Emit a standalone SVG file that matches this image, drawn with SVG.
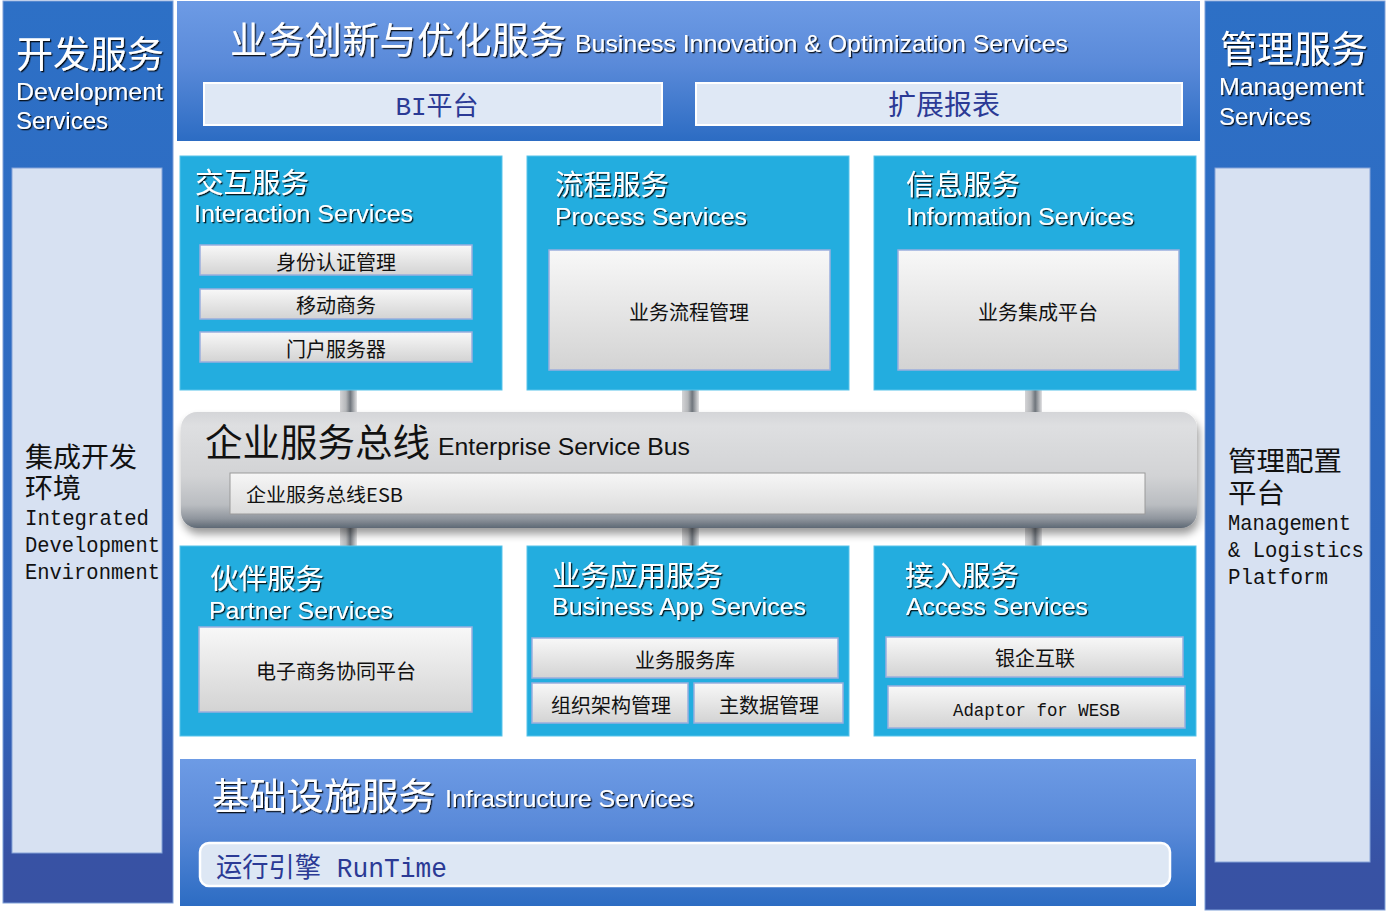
<svg xmlns="http://www.w3.org/2000/svg" width="1390" height="911" viewBox="0 0 1390 911">
<defs>
<linearGradient id="gCol" x1="0" y1="0" x2="0" y2="1">
<stop offset="0" stop-color="#2d70c6"/><stop offset="0.75" stop-color="#3066bd"/><stop offset="0.95" stop-color="#3852a4"/><stop offset="1" stop-color="#3852a3"/>
</linearGradient>
<linearGradient id="gBan" x1="0" y1="0" x2="0" y2="1">
<stop offset="0" stop-color="#6d9be5"/><stop offset="0.45" stop-color="#5a8ad9"/><stop offset="1" stop-color="#2c6cc3"/>
</linearGradient>
<linearGradient id="gBtn" x1="0" y1="0" x2="0" y2="1">
<stop offset="0" stop-color="#f8f8f8"/><stop offset="1" stop-color="#d3d3d3"/>
</linearGradient>
<linearGradient id="gBus" x1="0" y1="0" x2="0" y2="1">
<stop offset="0" stop-color="#d4d5d8"/><stop offset="0.12" stop-color="#dedfe1"/><stop offset="0.55" stop-color="#d2d3d5"/><stop offset="0.8" stop-color="#babdc1"/><stop offset="0.92" stop-color="#8f959d"/><stop offset="1" stop-color="#5e6874"/>
</linearGradient>
<linearGradient id="gEsbIn" x1="0" y1="0" x2="0" y2="1">
<stop offset="0" stop-color="#f6f6f6"/><stop offset="1" stop-color="#dcdcdc"/>
</linearGradient>
<linearGradient id="gPipe" x1="0" y1="0" x2="1" y2="0">
<stop offset="0" stop-color="#d4d4d6"/><stop offset="0.35" stop-color="#b5b7ba"/><stop offset="0.6" stop-color="#6f757c"/><stop offset="0.8" stop-color="#a9acb0"/><stop offset="1" stop-color="#e2e2e4"/>
</linearGradient>
<filter id="ts" x="-5%" y="-30%" width="110%" height="160%">
<feDropShadow dx="1.3" dy="1.3" stdDeviation="0.2" flood-color="#000" flood-opacity="0.85"/>
</filter>
<filter id="bs" x="-5%" y="-20%" width="110%" height="160%">
<feGaussianBlur in="SourceAlpha" stdDeviation="4"/>
<feOffset dx="2" dy="6"/>
<feComponentTransfer><feFuncA type="linear" slope="0.4"/></feComponentTransfer>
<feMerge><feMergeNode/><feMergeNode in="SourceGraphic"/></feMerge>
</filter>
<style>
.col{fill:url(#gCol);stroke:#7fa0d8;stroke-width:1}
.panel{fill:#d7e1f2;stroke:#86a3d8;stroke-width:1}
.ban{fill:url(#gBan)}
.svc{fill:#23addf;stroke:#58c3ea;stroke-width:1}
.btn{fill:url(#gBtn);stroke:#9aaede;stroke-width:1.5}
.lbox{fill:#dfe8f5;stroke:#ffffff;stroke-width:2}
.wt{fill:#ffffff;filter:url(#ts);font-family:"Liberation Sans","Noto Sans CJK SC",sans-serif}
.cjk{font-family:"Noto Sans CJK SC","Liberation Sans",sans-serif}
.cjl{font-family:"Liberation Sans","Noto Sans CJK SC",sans-serif}
.bk{fill:#111111;font-family:"Noto Sans CJK SC","Liberation Sans",sans-serif;font-size:20px;text-anchor:middle}
.mono{font-family:"Liberation Mono","Noto Sans CJK SC",monospace}
.navy{fill:#2b3a95}
.pipe{fill:url(#gPipe)}
</style>
</defs>
<rect width="1390" height="911" fill="#ffffff"/>

<g id="dev-services">
<rect class="col" x="3" y="1" width="170" height="902"/>
<rect class="panel" x="12" y="168" width="150" height="685"/>
<text class="wt cjk" x="16" y="68" font-size="37">开发服务</text>
<text class="wt" x="16" y="100" font-size="24" textLength="147" lengthAdjust="spacingAndGlyphs">Development</text>
<text class="wt" x="16" y="129" font-size="24">Services</text>
<text class="cjl" x="25" y="467" font-size="27.5" fill="#111" textLength="112" lengthAdjust="spacingAndGlyphs">集成开发</text>
<text class="cjl" x="25" y="498" font-size="27.5" fill="#111" textLength="56" lengthAdjust="spacingAndGlyphs">环境</text>
<text class="mono" font-size="21.5" fill="#111"><tspan x="25" y="525" textLength="124" lengthAdjust="spacingAndGlyphs">Integrated</tspan><tspan x="25" y="552" textLength="135" lengthAdjust="spacingAndGlyphs">Development</tspan><tspan x="25" y="579" textLength="135" lengthAdjust="spacingAndGlyphs">Environment</tspan></text>
</g>

<g id="mgmt-services">
<rect class="col" x="1205" y="1" width="180" height="909"/>
<rect class="panel" x="1215" y="168" width="155" height="694"/>
<text class="wt cjk" x="1220" y="63" font-size="37">管理服务</text>
<text class="wt" x="1219" y="95" font-size="24" textLength="145" lengthAdjust="spacingAndGlyphs">Management</text>
<text class="wt" x="1219" y="125" font-size="24">Services</text>
<text class="cjl" x="1228" y="471" font-size="27.5" fill="#111" textLength="114" lengthAdjust="spacingAndGlyphs">管理配置</text>
<text class="cjl" x="1228" y="503" font-size="27.5" fill="#111" textLength="57" lengthAdjust="spacingAndGlyphs">平台</text>
<text class="mono" font-size="21.5" fill="#111"><tspan x="1228" y="530" textLength="123" lengthAdjust="spacingAndGlyphs">Management</tspan><tspan x="1228" y="557" textLength="136" lengthAdjust="spacingAndGlyphs">&amp; Logistics</tspan><tspan x="1228" y="584" textLength="100" lengthAdjust="spacingAndGlyphs">Platform</tspan></text>
</g>

<g id="bio-services">
<rect class="ban" x="177" y="1" width="1023" height="140"/>
<text class="wt cjk" x="230" y="54" font-size="37" letter-spacing="0.4">业务创新与优化服务</text>
<text class="wt" x="575" y="52" font-size="24" textLength="493" lengthAdjust="spacingAndGlyphs">Business Innovation &amp; Optimization Services</text>
<rect class="lbox" x="204" y="83" width="458" height="42"/>
<text class="mono navy" x="437" y="115" font-size="26" text-anchor="middle">BI平台</text>
<rect class="lbox" x="696" y="83" width="486" height="42"/>
<text class="cjk navy" x="944" y="115" font-size="28" text-anchor="middle">扩展报表</text>
</g>

<g id="connectors">
<rect class="pipe" x="340" y="390" width="17" height="24"/>
<rect class="pipe" x="682" y="390" width="17" height="24"/>
<rect class="pipe" x="1025" y="390" width="17" height="24"/>
<rect class="pipe" x="340" y="524" width="17" height="23"/>
<rect class="pipe" x="682" y="524" width="17" height="23"/>
<rect class="pipe" x="1025" y="524" width="17" height="23"/>
</g>

<g id="interaction-services">
<rect class="svc" x="180" y="156" width="322" height="234"/>
<text class="wt cjk" x="195" y="193" font-size="28.5">交互服务</text>
<text class="wt" x="194" y="222" font-size="23" textLength="219" lengthAdjust="spacingAndGlyphs">Interaction Services</text>
<rect class="btn" x="200" y="245" width="272" height="30"/>
<text class="bk" x="336" y="270">身份认证管理</text>
<rect class="btn" x="200" y="289" width="272" height="30"/>
<text class="bk" x="336" y="313">移动商务</text>
<rect class="btn" x="200" y="332" width="272" height="30"/>
<text class="bk" x="336" y="357">门户服务器</text>
</g>

<g id="process-services">
<rect class="svc" x="527" y="156" width="322" height="234"/>
<text class="wt cjk" x="555" y="195" font-size="28.5">流程服务</text>
<text class="wt" x="555" y="225" font-size="23" textLength="192" lengthAdjust="spacingAndGlyphs">Process Services</text>
<rect class="btn" x="549" y="250" width="281" height="120"/>
<text class="bk" x="689" y="320">业务流程管理</text>
</g>

<g id="information-services">
<rect class="svc" x="874" y="156" width="322" height="234"/>
<text class="wt cjk" x="906" y="195" font-size="28.5">信息服务</text>
<text class="wt" x="906" y="225" font-size="23" textLength="228" lengthAdjust="spacingAndGlyphs">Information Services</text>
<rect class="btn" x="898" y="250" width="281" height="120"/>
<text class="bk" x="1038" y="320">业务集成平台</text>
</g>

<g id="esb">
<rect x="181" y="412" width="1016" height="116" rx="16" fill="url(#gBus)" filter="url(#bs)"/>
<text class="cjk" x="205" y="456" font-size="37.5" fill="#111">企业服务总线</text>
<text x="438" y="455" font-size="24" fill="#111" font-family="Liberation Sans, sans-serif" textLength="252" lengthAdjust="spacingAndGlyphs">Enterprise Service Bus</text>
<rect x="230" y="473" width="915" height="41" fill="url(#gEsbIn)" stroke="#9a9a9a" stroke-width="1"/>
<text class="cjk" x="246" y="502" font-size="19" fill="#111" textLength="157" lengthAdjust="spacingAndGlyphs">企业服务总线ESB</text>
</g>

<g id="partner-services">
<rect class="svc" x="180" y="546" width="322" height="190"/>
<text class="wt cjk" x="210" y="589" font-size="28.5">伙伴服务</text>
<text class="wt" x="209" y="619" font-size="23" textLength="184" lengthAdjust="spacingAndGlyphs">Partner Services</text>
<rect class="btn" x="199" y="627" width="273" height="85"/>
<text class="bk" x="336" y="679">电子商务协同平台</text>
</g>

<g id="business-app-services">
<rect class="svc" x="527" y="546" width="322" height="190"/>
<text class="wt cjk" x="552" y="586" font-size="28.5">业务应用服务</text>
<text class="wt" x="552" y="615" font-size="23" textLength="254" lengthAdjust="spacingAndGlyphs">Business App Services</text>
<rect class="btn" x="532" y="638" width="306" height="40"/>
<text class="bk" x="685" y="668">业务服务库</text>
<rect class="btn" x="532" y="683" width="156" height="40"/>
<text class="bk" x="611" y="713">组织架构管理</text>
<rect class="btn" x="694" y="683" width="149" height="40"/>
<text class="bk" x="769" y="713">主数据管理</text>
</g>

<g id="access-services">
<rect class="svc" x="874" y="546" width="322" height="190"/>
<text class="wt cjk" x="905" y="586" font-size="28.5">接入服务</text>
<text class="wt" x="906" y="615" font-size="23" textLength="182" lengthAdjust="spacingAndGlyphs">Access Services</text>
<rect class="btn" x="886" y="637" width="297" height="40"/>
<text class="bk" x="1035" y="666">银企互联</text>
<rect class="btn" x="888" y="686" width="297" height="42"/>
<text class="mono" x="953" y="716" font-size="19" fill="#111" textLength="167" lengthAdjust="spacingAndGlyphs">Adaptor for WESB</text>
</g>

<g id="infrastructure-services">
<rect class="ban" x="180" y="759" width="1016" height="147"/>
<text class="wt cjk" x="212" y="810" font-size="37.3">基础设施服务</text>
<text class="wt" x="445" y="807" font-size="24" textLength="249" lengthAdjust="spacingAndGlyphs">Infrastructure Services</text>
<rect x="200" y="843" width="970" height="43" rx="9" fill="#dde7f4" stroke="#ffffff" stroke-width="2.5"/>
<text class="mono navy" x="216" y="877" font-size="27" textLength="231" lengthAdjust="spacingAndGlyphs">运行引擎 RunTime</text>
</g>
</svg>
